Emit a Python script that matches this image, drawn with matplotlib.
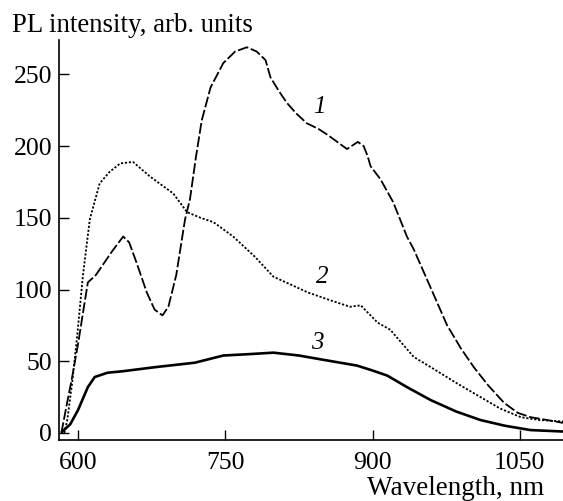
import matplotlib.pyplot as plt

# curve 1 (dashed)
wl1 = [583, 588, 594, 600, 606, 610, 618, 626, 635, 646, 652, 660, 670, 678, 686, 692,
       700, 709, 714, 720, 726, 735, 748, 760, 772, 782, 791, 796, 805, 813, 822, 833,
       845, 854, 864, 874, 885, 891, 895, 898, 908, 921, 935, 942, 960, 976, 990, 1003,
       1018, 1034, 1048, 1061, 1078, 1094]
pl1 = [0, 18, 39, 62, 88, 105, 110, 118, 127, 137, 133, 118, 98, 86, 82, 88,
       110, 149, 163, 192, 218, 241, 258, 266, 269, 266, 260, 248, 238, 230, 223, 216,
       212, 208, 203, 198, 203, 200, 193, 186, 177, 161, 137, 128, 100, 75, 59, 46,
       33, 21, 14, 11, 9, 7]

# curve 2 (dotted)
wl2 = [586, 589, 594, 599, 605, 612, 622, 632, 643, 656, 673, 685, 697, 711, 725, 738,
       758, 780, 799, 815, 834, 855, 877, 888, 905, 918, 942, 959, 985, 1010, 1030,
       1051, 1070, 1094]
pl2 = [0, 9, 35, 67, 110, 149, 174, 182, 188, 189, 179, 173, 167, 154, 150, 147,
       137, 123, 109, 104, 98, 93, 88, 89, 77, 72, 53, 46, 35, 25, 17,
       11, 9, 8]

# curve 3 (solid)
wl3 = [584, 592, 600, 610, 617, 630, 645, 680, 719, 748, 775, 799, 825, 850, 884, 898,
       915, 935, 959, 985, 1010, 1035, 1061, 1094]
pl3 = [1, 6, 16, 32, 39, 42, 43, 46, 49, 54, 55, 56, 54, 51, 47, 44,
       40, 32, 23, 15, 9, 5, 2, 1]

xticks = [600, 750, 900, 1050]
yticks = [0, 50, 100, 150, 200, 250]

plt.rcParams['font.family'] = ['Liberation Serif', 'DejaVu Serif']

fig = plt.figure(figsize=(5.63, 5.01), dpi=100)
ax = fig.add_axes([0.1048, 0.1218, 0.8952, 0.7982])

ax.plot(wl1, pl1, color='black', lw=1.3, linestyle=(0, (6, 1.5)))
ax.plot(wl2, pl2, color='black', lw=1.3, linestyle=(0, (1.2, 1.0)))
ax.plot(wl3, pl3, color='black', lw=1.9)

ax.text(846, 227, '1', style='italic', fontsize=18, ha='center', va='center')
ax.text(849, 109, '2', style='italic', fontsize=18, ha='center', va='center')
ax.text(844, 63, '3', style='italic', fontsize=18, ha='center', va='center')

ax.set_xlim(580.6, 1094)
ax.set_ylim(-4.9, 274)
ax.set_xticks(xticks)
ax.set_yticks(yticks)
ax.tick_params(direction='in', length=7, width=1, labelsize=18.5, pad=5)
ax.tick_params(axis='x', pad=9)
ax.spines['top'].set_visible(False)
ax.spines['right'].set_visible(False)
ax.spines['left'].set_linewidth(1.2)
ax.spines['bottom'].set_linewidth(1.2)

fig.text(0.022, 0.95, 'PL intensity, arb. units', fontsize=19.3, ha='left', va='center')
fig.text(0.966, 0.012, 'Wavelength, nm', fontsize=19.5, ha='right', va='baseline')

fig.savefig('out.png', dpi=100)
